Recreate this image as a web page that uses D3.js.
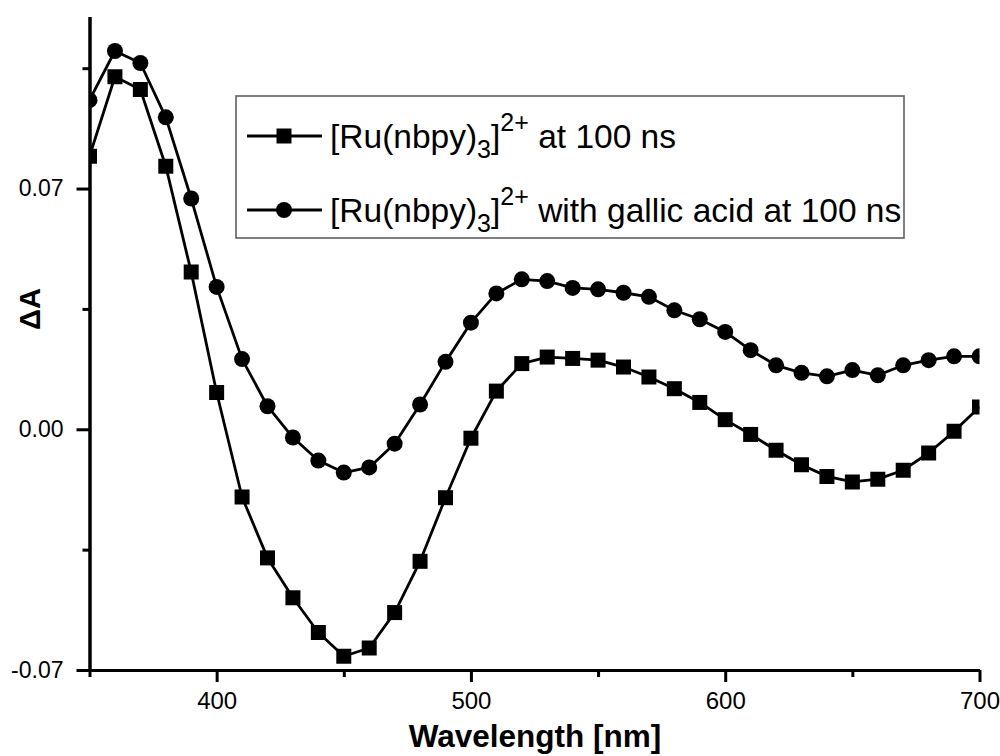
<!DOCTYPE html>
<html>
<head>
<meta charset="utf-8">
<script src="https://cdn.jsdelivr.net/npm/d3@7"></script>
<style>
  html, body { margin: 0; padding: 0; background: #fff; }
  svg { display: block; font-family: "Liberation Sans", Arial, sans-serif; }
</style>
</head>
<body>
<svg id="chart" width="1000" height="756"></svg>
<script>
const WAVELENGTHS = [350, 360, 370, 380, 390, 400, 410, 420, 430, 440, 450, 460,
  470, 480, 490, 500, 510, 520, 530, 540, 550, 560, 570, 580, 590, 600, 610,
  620, 630, 640, 650, 660, 670, 680, 690, 700];
const RU_ONLY = [0.0794, 0.1025, 0.0988, 0.0765, 0.0457, 0.0107, -0.0197,
  -0.0374, -0.0490, -0.0591, -0.0660, -0.0636, -0.0533, -0.0384, -0.0199,
  -0.0026, 0.0111, 0.0191, 0.0210, 0.0206, 0.0201, 0.0181, 0.0152, 0.0118,
  0.0078, 0.0028, -0.0015, -0.0061, -0.0103, -0.0137, -0.0153, -0.0145,
  -0.0119, -0.0069, -0.0006, 0.0065];
const RU_GALLIC = [0.0957, 0.1100, 0.1065, 0.0907, 0.0671, 0.0414, 0.0204,
  0.0067, -0.0024, -0.0091, -0.0126, -0.0111, -0.0042, 0.0072, 0.0196, 0.0310,
  0.0395, 0.0436, 0.0431, 0.0411, 0.0407, 0.0397, 0.0385, 0.0346, 0.0320,
  0.0283, 0.0230, 0.0186, 0.0164, 0.0154, 0.0172, 0.0157, 0.0186, 0.0201,
  0.0212, 0.0212];
const X_MAJOR_TICKS = [400, 500, 600, 700];
const X_MINOR_TICKS = [350, 450, 550, 650];
const Y_MAJOR_TICKS = [-0.07, 0.00, 0.07];
const Y_MINOR_TICKS = [-0.035, 0.035, 0.105];
const X_LABEL = 'Wavelength [nm]';
const Y_LABEL = '\u0394A';

const PLOT = {left: 89.5, right: 979.5, top: 16.6, bottom: 670};
const LINE_WIDTH = 2.8;
const SQUARE_SIDE = 15;
const CIRCLE_RADIUS = 8;

const svg = d3.select('#chart');

const x = d3.scaleLinear().domain([350, 700]).range([PLOT.left, PLOT.right]);
const y = d3.scaleLinear().domain([-0.07, 0.12]).range([PLOT.bottom, PLOT.top]);

const squareSymbol = d3.symbol(d3.symbolSquare, SQUARE_SIDE * SQUARE_SIDE);
const circleSymbol = d3.symbol(d3.symbolCircle,
    Math.PI * CIRCLE_RADIUS * CIRCLE_RADIUS);

const series = [
  {values: RU_ONLY, symbol: squareSymbol},
  {values: RU_GALLIC, symbol: circleSymbol},
];

// clip the curves to the plot frame, markers at the edges are cut in half
svg.append('clipPath')
    .attr('id', 'plot-clip')
    .append('rect')
    .attr('x', PLOT.left)
    .attr('y', PLOT.top)
    .attr('width', PLOT.right - PLOT.left)
    .attr('height', PLOT.bottom - PLOT.top);

const plot = svg.append('g').attr('clip-path', 'url(#plot-clip)');

const line = d3.line()
    .x((d, i) => x(WAVELENGTHS[i]))
    .y(d => y(d));

for (const s of series) {
  plot.append('path')
      .datum(s.values)
      .attr('fill', 'none')
      .attr('stroke', '#000')
      .attr('stroke-width', LINE_WIDTH)
      .attr('stroke-linejoin', 'round')
      .attr('d', line);

  plot.append('g')
      .selectAll('path')
      .data(s.values)
      .join('path')
      .attr('transform', (d, i) => `translate(${x(WAVELENGTHS[i])},${y(d)})`)
      .attr('d', s.symbol())
      .attr('fill', '#000');
}

/**
 * Styles an axis group: thick black lines, Arial-like labels.
 * @param {!Object} g
 * @param {number} fontSize
 */
function styleAxis(g, fontSize) {
  g.selectAll('path, line')
      .attr('stroke', '#000')
      .attr('stroke-width', 3);
  g.selectAll('text')
      .attr('fill', '#000')
      .attr('font-size', fontSize)
      .attr('font-family', '"Liberation Sans", Arial, sans-serif');
}

// plain hyphen for negatives, like the original plot
const yFormat = d => d3.format('.2f')(d).replace('\u2212', '-');

// x axis
svg.append('g')
    .attr('transform', `translate(0,${PLOT.bottom})`)
    .call(d3.axisBottom(x)
              .tickValues(X_MINOR_TICKS)
              .tickSize(7)
              .tickSizeOuter(0)
              .tickFormat(''))
    .call(g => styleAxis(g, 23));

svg.append('g')
    .attr('transform', `translate(0,${PLOT.bottom})`)
    .call(d3.axisBottom(x)
              .tickValues(X_MAJOR_TICKS)
              .tickSize(12)
              .tickSizeOuter(0)
              .tickPadding(10)
              .tickFormat(d3.format('d')))
    .call(g => styleAxis(g, 24));

// y axis
svg.append('g')
    .attr('transform', `translate(${PLOT.left},0)`)
    .call(d3.axisLeft(y)
              .tickValues(Y_MINOR_TICKS)
              .tickSize(7)
              .tickSizeOuter(0)
              .tickFormat(''))
    .call(g => styleAxis(g, 23));

svg.append('g')
    .attr('transform', `translate(${PLOT.left},0)`)
    .call(d3.axisLeft(y)
              .tickValues(Y_MAJOR_TICKS)
              .tickSize(13)
              .tickSizeOuter(0)
              .tickPadding(13)
              .tickFormat(yFormat))
    .call(g => styleAxis(g, 23));

// axis titles
svg.append('text')
    .attr('x', 535)
    .attr('y', 747)
    .attr('text-anchor', 'middle')
    .attr('font-size', 31.5)
    .attr('font-weight', 'bold')
    .text(X_LABEL);

svg.append('text')
    .attr('transform', 'translate(40,309) rotate(-90)')
    .attr('text-anchor', 'middle')
    .attr('font-size', 29)
    .attr('font-weight', 'bold')
    .text(Y_LABEL);

// legend
const legend = svg.append('g');
legend.append('rect')
    .attr('x', 236)
    .attr('y', 96)
    .attr('width', 668)
    .attr('height', 142)
    .attr('fill', '#fff')
    .attr('stroke', '#555')
    .attr('stroke-width', 1.5);

const legendRows = [
  {cy: 136, symbol: squareSymbol, tail: ' at 100 ns'},
  {cy: 210, symbol: circleSymbol, tail: ' with gallic acid at 100 ns'},
];

for (const row of legendRows) {
  legend.append('line')
      .attr('x1', 247)
      .attr('x2', 322)
      .attr('y1', row.cy)
      .attr('y2', row.cy)
      .attr('stroke', '#000')
      .attr('stroke-width', LINE_WIDTH);
  legend.append('path')
      .attr('transform', `translate(284,${row.cy})`)
      .attr('d', row.symbol())
      .attr('fill', '#000');

  const label = legend.append('text')
      .attr('x', 330)
      .attr('y', row.cy + 12)
      .attr('font-size', 33.5)
      .attr('fill', '#000');
  label.append('tspan').text('[Ru(nbpy)');
  label.append('tspan').attr('font-size', 25).attr('dy', 10).text('3');
  label.append('tspan').attr('dy', -10).text(']');
  label.append('tspan').attr('font-size', 25).attr('dy', -17).text('2+');
  label.append('tspan').attr('dy', 17).text(row.tail);
}
</script>
</body>
</html>
